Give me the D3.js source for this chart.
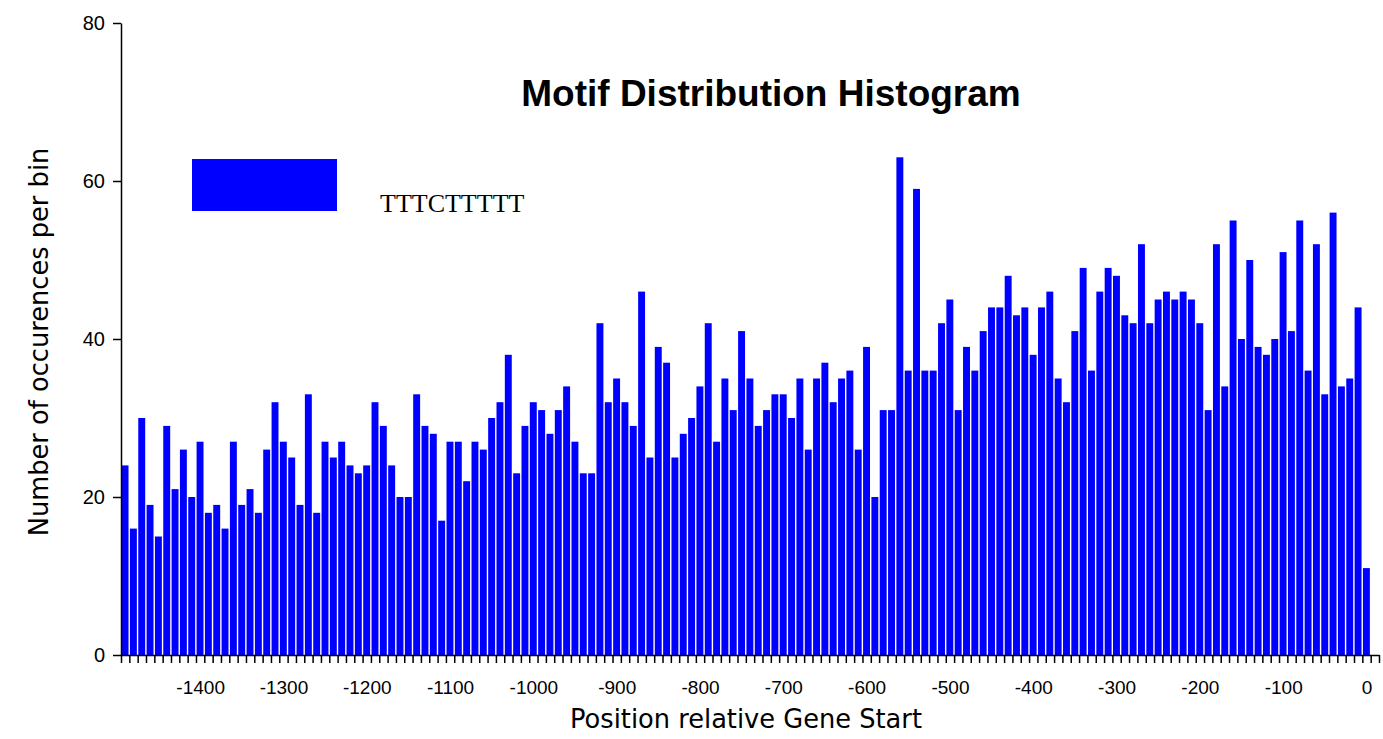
<!DOCTYPE html>
<html>
<head>
<meta charset="utf-8">
<script src="https://cdn.jsdelivr.net/npm/d3@7"></script>
<style>
  body { margin: 0; background: #fff; }
  .axis path, .axis line { stroke: #000; stroke-width: 1.5; }
  .axis text { font-family: "Liberation Sans", Arial, sans-serif; fill: #000; }
</style>
</head>
<body>
<svg width="1383" height="739"></svg>
<script>
// occurrences per 10 bp bin, from -1500 up to gene start
var counts = [
  24, 16, 30, 19, 15, 29, 21, 26, 20, 27, 18, 19, 16, 27, 19, 21, 18, 26,
  32, 27, 25, 19, 33, 18, 27, 25, 27, 24, 23, 24, 32, 29, 24, 20, 20, 33, 29,
  28, 17, 27, 27, 22, 27, 26, 30, 32, 38, 23, 29, 32, 31, 28, 31, 34, 27,
  23, 23, 42, 32, 35, 32, 29, 46, 25, 39, 37, 25, 28, 30, 34, 42, 27, 35, 31,
  41, 35, 29, 31, 33, 33, 30, 35, 26, 35, 37, 32, 35, 36, 26, 39, 20, 31,
  31, 63, 36, 59, 36, 36, 42, 45, 31, 39, 36, 41, 44, 44, 48, 43, 44, 38, 44,
  46, 35, 32, 41, 49, 36, 46, 49, 48, 43, 42, 52, 42, 45, 46, 45, 46, 45, 42,
  31, 52, 34, 55, 40, 50, 39, 38, 40, 51, 41, 55, 36, 52, 33, 56, 34, 35, 44, 11
];
var binSize = 10;
var binEnds = d3.range(-1490, 1, binSize);   // label position of each bin
var xLabels = [-1400, -1300, -1200, -1100, -1000, -900, -800, -700, -600, -500, -400, -300, -200, -100, 0];
var yTicks = [0, 20, 40, 60, 80];
var motif = "TTTCTTTTT";

var svg = d3.select("svg");

var x = d3.scaleLinear().domain([-1495, 15]).range([121, 1379]);
var y = d3.scaleLinear().domain([0, 80]).range([655, 23]);

var data = binEnds.map(function(b, i) { return {pos: b, n: counts[i]}; });
var bw = x(binSize) - x(0);

// bars
svg.append("g")
  .selectAll("rect")
  .data(data)
  .enter().append("rect")
  .attr("x", function(d) { return x(d.pos - binSize / 2) + 0.6; })
  .attr("y", function(d) { return y(d.n); })
  .attr("width", bw - 1.4)
  .attr("height", function(d) { return y(0) - y(d.n); })
  .attr("fill", "#0000ff");

// x axis : minor ticks per bin
svg.append("g")
  .attr("class", "axis")
  .attr("transform", "translate(0," + y(0) + ")")
  .call(d3.axisBottom(x)
    .tickValues(d3.range(-1495, 16, binSize))
    .tickSize(8)
    .tickSizeOuter(0)
    .tickFormat(""));

// x axis labels
var xl = svg.append("g")
  .attr("class", "axis")
  .attr("transform", "translate(0," + y(0) + ")")
  .call(d3.axisBottom(x)
    .tickValues(xLabels)
    .tickSize(0)
    .tickPadding(26)
    .tickFormat(d3.format("d")));
xl.select(".domain").remove();
xl.selectAll("text").attr("font-size", 19).text(function(d) { return d < 0 ? "-" + (-d) : d; });

// y axis
var ya = svg.append("g")
  .attr("class", "axis")
  .attr("transform", "translate(" + x(-1495) + ",0)")
  .call(d3.axisLeft(y).tickValues(yTicks).tickSize(8).tickSizeOuter(0).tickPadding(8));
ya.selectAll("text").attr("font-size", 20);

// titles
svg.append("text")
  .attr("x", 771).attr("y", 106)
  .attr("text-anchor", "middle")
  .attr("font-family", "Liberation Sans, Arial, sans-serif")
  .attr("font-weight", "bold")
  .attr("font-size", 37)
  .text("Motif Distribution Histogram");

svg.append("text")
  .attr("x", 746).attr("y", 728)
  .attr("text-anchor", "middle")
  .attr("font-family", "DejaVu Sans, sans-serif")
  .attr("font-size", 25.7)
  .text("Position relative Gene Start");

svg.append("text")
  .attr("transform", "translate(48,342) rotate(-90)")
  .attr("text-anchor", "middle")
  .attr("font-family", "DejaVu Sans, sans-serif")
  .attr("font-size", 25.7)
  .text("Number of occurences per bin");

// legend
svg.append("rect")
  .attr("x", 192).attr("y", 159)
  .attr("width", 145).attr("height", 52)
  .attr("fill", "#0000ff");

svg.append("text")
  .attr("x", 380).attr("y", 212)
  .attr("font-family", "Liberation Serif, Times New Roman, serif")
  .attr("font-size", 26)
  .text(motif);
</script>
</body>
</html>
